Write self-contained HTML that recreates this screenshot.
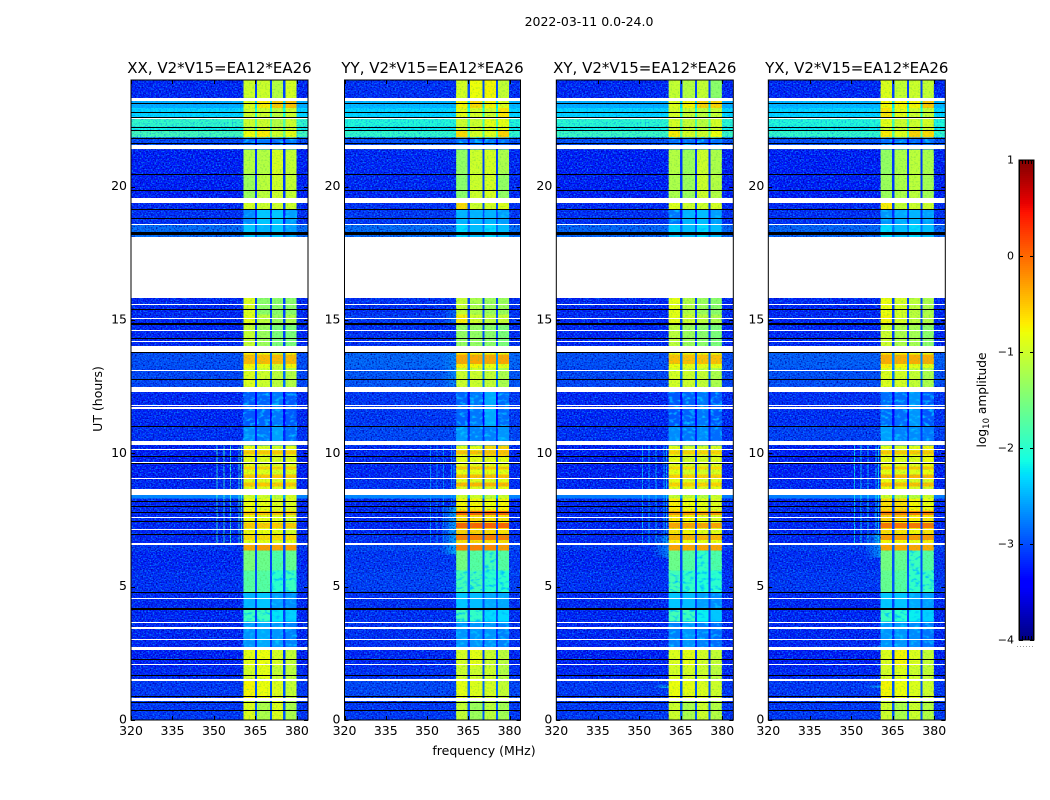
<!DOCTYPE html>
<html>
<head>
<meta charset="utf-8">
<title>2022-03-11 spectrogram</title>
<style>
html,body{margin:0;padding:0;background:#fff;}
svg{display:block;}
text{font-family:"DejaVu Sans","Liberation Sans",sans-serif;fill:#000;}
.c{shape-rendering:crispEdges;}
</style>
</head>
<body>
<svg id="fig" xmlns="http://www.w3.org/2000/svg" width="1050" height="800" viewBox="0 0 1050 800">
<defs>
<filter id="speckle" x="0" y="0" width="100%" height="100%" color-interpolation-filters="sRGB">
<feTurbulence type="fractalNoise" baseFrequency="0.62 0.72" numOctaves="1" seed="7" result="n"/>
<feColorMatrix in="n" type="matrix" values="0 0 0 0 0.02  0 0 0 0 0.5  0 0 0 0 1  3.2 0 0 0 -1.45" result="light"/>
<feColorMatrix in="n" type="matrix" values="0 0 0 0 0  0 0 0 0 0  0 0 0 0 0.6  0 2.6 0 0 -1.15" result="dark"/>
<feMerge><feMergeNode in="dark"/><feMergeNode in="light"/></feMerge>
</filter>
<filter id="speckle-bright" x="0" y="0" width="100%" height="100%" color-interpolation-filters="sRGB">
<feTurbulence type="fractalNoise" baseFrequency="0.62 0.72" numOctaves="1" seed="11"/>
<feColorMatrix type="matrix" values="0 0 0 0 0  0 0 0 0 0.4  0 0 0 0 1  1.6 0 0 0 -0.72"/>
</filter>
<filter id="speckle-soft" x="0" y="0" width="100%" height="100%" color-interpolation-filters="sRGB">
<feTurbulence type="fractalNoise" baseFrequency="0.55 0.65" numOctaves="1" seed="3"/>
<feColorMatrix type="matrix" values="0 0 0 0 0.3  0 0 0 0 0.8  0 0 0 0 0.3  1.4 0 0 0 -0.68"/>
</filter>
<filter id="blotch" x="0" y="0" width="100%" height="100%" color-interpolation-filters="sRGB">
<feTurbulence type="fractalNoise" baseFrequency="0.2 0.32" numOctaves="2" seed="5"/>
<feColorMatrix type="matrix" values="0 0 0 0 0  0 0 0 0 0.75  0 0 0 0 1  3.4 0 0 0 -1.7"/>
</filter>
</defs>
<text x="589" y="26" font-size="12.5" text-anchor="middle">2022-03-11 0.0-24.0</text>
<text transform="translate(102,399) rotate(-90)" font-size="12.5" text-anchor="middle">UT (hours)</text>
<text x="484" y="755" font-size="12.5" text-anchor="middle">frequency (MHz)</text>
<text transform="translate(986,400) rotate(-90)" font-size="12.2" text-anchor="middle">log<tspan font-size="8.5" dy="3">10</tspan><tspan dy="-3"> amplitude</tspan></text>
</svg>
<script>
// ---- data ----
const polarizations = ["XX", "YY", "XY", "YX"];
const baselineLabel = "V2*V15=EA12*EA26";
const freqTicks = [320, 335, 350, 365, 380];
const utTicks = [0, 5, 10, 15, 20];
const colorTicks = [1, 0, -1, -2, -3, -4];
// spectral windows in MHz
const subbands = [[360.6, 364.8], [365.6, 370.2], [370.9, 375.0], [375.8, 379.9]];
// time rows in UT hours [top, bottom]
const rowEdges = [
[24,23.3],[23.3,22.95],[22.95,22.6],[22.6,22.25],[22.25,22.1],[22.1,21.85],[21.85,21.4],
[21.4,20.5],[20.5,19.4],[19.4,19.15],[19.15,18.6],[18.6,18.1],
[15.83,15.2],[15.2,14.85],[14.85,14],[13.8,13.2],[13.2,12.3],[12.3,11],[11,10.3],
[10.3,9.9],[9.9,9],[9,8.44],[8.44,8.3],[8.3,7.9],[7.9,7.5],[7.5,7],[7,6.6],[6.6,6.35],
[6.35,5.6],[5.6,4.8],[4.8,4.2],[4.2,3.7],[3.7,2.7],[2.7,2],[2,1.55],[1.55,0.8],[0.8,0]
];
// log10 amplitude per row: [background, sub1, sub2, sub3, sub4]
const valuesXX = [
[-3.25,-1,-1,-1.15,-.95],[-2.5,-.9,-.7,-.5,-.45],[-2.3,-1,-1,-1.1,-1],[-1.95,-1,-1,-1.15,-1],[-2.15,-1.1,-1,-1.1,-1],[-1.85,-.8,-.7,-1,-.85],[-3.05,-2.9,-2.8,-2.9,-2.8],
[-3.3,-1.15,-1.15,-.95,-1.05],[-3.3,-1.3,-1.1,-1,-1.05],[-3.25,-.95,-1,-1,-1],[-3.2,-2.7,-2.4,-2.4,-2.6],[-2.8,-2.4,-2.5,-2.4,-2.6],
[-3.25,-.9,-1.4,-1.4,-1.4],[-3.25,-.85,-1.1,-1.3,-1.2],[-3.25,-1.05,-1.3,-1.5,-1.5],[-3,-.75,-.85,-1,-.75],[-3.05,-.9,-1,-1.1,-1.15],[-3.25,-2.95,-2.9,-2.8,-2.95],[-3.2,-2.7,-2.8,-2.6,-2.85],
[-3.3,-.8,-.9,-.95,-.85],[-3.3,-.85,-.9,-.95,-.9],[-3.25,-.85,-.9,-.95,-.85],[-2.7,-1,-1,-1.1,-.95],[-3.25,-.8,-.85,-.9,-.9],[-3.25,-.8,-.85,-.9,-.9],[-3.25,-.75,-.8,-.85,-.95],[-3.25,-.85,-.85,-.9,-.85],[-3.15,-.3,-.25,-.3,-.25],
[-3.25,-1.5,-1.6,-1.8,-1.65],[-3.2,-1.75,-1.75,-2,-1.9],[-3.25,-2.5,-2.4,-2.6,-2.7],[-3.25,-1.9,-1.9,-2.25,-2.35],[-3.25,-2.65,-2.55,-2.65,-2.75],[-3.3,-.85,-.8,-.95,-1.05],[-3.25,-.95,-.85,-1.05,-1.1],[-3.15,-.75,-.8,-.9,-1.05],[-3.15,-.9,-1.2,-.9,-1.2]
];
const valuesYY = [
[-3.2,-.95,-.8,-.75,-1.05],[-2.45,-.75,-.6,-.75,-.9],[-2.3,-.85,-.95,-1,-.65],[-2.05,-1,-1,-.85,-.85],[-2.2,-1,-.95,-.9,-.85],[-1.95,-.6,-.95,-.9,-.55],[-3,-2.85,-2.85,-2.85,-2.85],
[-3.25,-1.35,-1,-.95,-1.2],[-3.25,-1.4,-1,-.95,-1.35],[-3.2,-.6,-1,-.95,-.9],[-3.15,-2.5,-2.5,-2.5,-2.6],[-2.8,-2.3,-2.45,-2.3,-2.45],
[-3.2,-1.05,-1.2,-1.3,-1.3],[-3.15,-.7,-1,-1.1,-1.05],[-3.2,-1.35,-1.35,-1.4,-1.5],[-2.85,-.7,-.75,-.8,-.85],[-2.95,-1,-1,-1.05,-1.2],[-3.15,-2.9,-2.8,-2.55,-2.85],[-3.05,-2.65,-2.75,-2.75,-2.65],
[-3.25,-.85,-.85,-.6,-.55],[-3.25,-.85,-.85,-.85,-.85],[-3.2,-.9,-.9,-.9,-.85],[-2.7,-1,-1,-1.1,-1],[-3.25,-.75,-.75,-.8,-.75],[-3.25,-.6,-.6,-.65,-.65],[-3.25,-.55,-.55,-.6,-.65],[-3.2,-.6,-.6,-.6,-.6],[-3.05,-.12,-.12,-.15,-.25],
[-3.15,-1.55,-1.75,-1.85,-1.75],[-3.1,-1.85,-1.85,-2,-2],[-3.2,-2.4,-2.45,-2.55,-2.55],[-3.2,-1.85,-1.95,-2.3,-2.3],[-3.2,-2.65,-2.65,-2.65,-2.75],[-3.25,-.95,-.85,-1,-1.1],[-3.2,-1,-1,-1,-1.15],[-3.05,-.85,-.9,-.95,-1.05],[-3.15,-1.05,-1.3,-1.1,-1.25]
];
const valuesXY = [
[-3.25,-1.05,-1.15,-1.05,-1.4],[-2.5,-.9,-.75,-.55,-.55],[-2.3,-.95,-1.05,-1.1,-1.05],[-2,-.95,-1.05,-1.1,-.95],[-2.15,-1,-1,-1.1,-1],[-1.9,-.7,-.95,-1,-.8],[-3,-2.85,-2.85,-2.9,-2.85],
[-3.3,-1.15,-1.3,-1,-1.2],[-3.3,-1.2,-1.3,-1,-1.15],[-3.25,-.9,-1,-1,-.95],[-3.2,-2.8,-2.5,-2.45,-2.6],[-2.85,-2.35,-2.45,-2.3,-2.45],
[-3.25,-.85,-1.15,-1.3,-1.4],[-3.25,-.85,-1,-1.1,-1.2],[-3.25,-1.1,-1.3,-1.4,-1.5],[-3,-.8,-.85,-.85,-.85],[-3.05,-.95,-1,-1.05,-1.2],[-3.25,-2.95,-2.9,-2.8,-2.95],[-3.2,-2.7,-2.8,-2.7,-2.85],
[-3.3,-.85,-.95,-.95,-.9],[-3.3,-.85,-.95,-.95,-.9],[-3.25,-.85,-.9,-.95,-.85],[-2.75,-1.05,-1.05,-1.15,-1],[-3.25,-.7,-.8,-.85,-.9],[-3.25,-.65,-.75,-.85,-.9],[-3.25,-.65,-.75,-.85,-.85],[-3.25,-.7,-.8,-.85,-.8],[-3.15,-.3,-.3,-.3,-.3],
[-3.25,-1.6,-1.75,-1.95,-1.8],[-3.2,-1.85,-1.95,-2.05,-2],[-3.25,-2.4,-2.45,-2.6,-2.7],[-3.25,-1.85,-1.9,-2.2,-2.4],[-3.25,-2.75,-2.65,-2.75,-2.85],[-3.3,-.9,-.85,-.95,-1.05],[-3.25,-.95,-.95,-1,-1.1],[-3.15,-.8,-.85,-.9,-1],[-3.15,-1,-1.2,-1,-1.15]
];
const valuesYX = [
[-3.25,-.9,-1.05,-1,-1.05],[-2.45,-.75,-.75,-.75,-.5],[-2.3,-.65,-.85,-1,-1.05],[-2.05,-.85,-1,-1,-.95],[-2.2,-1,-1,-1,-1],[-1.95,-.7,-.9,-.55,-.6],[-3,-2.85,-2.85,-2.9,-2.85],
[-3.3,-1.35,-1.2,-1.1,-1.2],[-3.3,-1.3,-1.2,-1.1,-1.25],[-3.25,-.7,-1.05,-1,-1],[-3.2,-2.65,-2.55,-2.5,-2.6],[-2.85,-2.3,-2.45,-2.3,-2.45],
[-3.25,-.8,-.95,-1.1,-1.2],[-3.25,-.75,-.95,-1.1,-1.15],[-3.25,-1,-1.2,-1.25,-1.4],[-2.9,-.7,-.75,-.85,-.85],[-3,-.9,-.95,-1.05,-1.2],[-3.2,-2.85,-2.85,-2.65,-2.95],[-3.1,-2.6,-2.75,-2.7,-2.8],
[-3.3,-.85,-.9,-.85,-.75],[-3.3,-.85,-.9,-.9,-.8],[-3.25,-.8,-.85,-.95,-.95],[-2.75,-1,-1.1,-1.15,-1],[-3.25,-.6,-.6,-.75,-.8],[-3.25,-.55,-.5,-.7,-.65],[-3.25,-.6,-.65,-.75,-.65],[-3.25,-.75,-.75,-.85,-.7],[-3.1,-.3,-.3,-.3,-.35],
[-3.2,-1.55,-1.65,-1.9,-1.75],[-3.15,-1.65,-1.75,-1.95,-1.9],[-3.25,-2.4,-2.4,-2.55,-2.6],[-3.25,-1.9,-2,-2.2,-2.35],[-3.25,-2.65,-2.65,-2.7,-2.8],[-3.3,-.9,-.75,-.9,-1.05],[-3.25,-.95,-.9,-1,-1.05],[-3.15,-.75,-.8,-.9,-1],[-3.15,-1,-1.2,-1,-1.15]
];
// hotter integrations across all windows: [top, bottom] in UT hours, level per polarization
const hotSpans = [[13.7,13.35],[10.1,9.95],[9.5,9.4],[9.2,9.08],[8.9,8.75],[7.84,7.69],[7.39,7.2],[6.94,6.75]];
const hotLevelsXX = [-.42,-.5,-.55,-.5,-.5,-.45,-.5,-.6];
const hotLevelsYY = [-.32,-.45,-.5,-.45,-.4,.05,.05,-.1];
const hotLevelsXY = [-.45,-.55,-.6,-.55,-.55,-.25,-.3,-.4];
const hotLevelsYX = [-.35,-.5,-.5,-.4,-.45,-.1,-.05,-.25];
// flagged (blank) intervals in UT hours [top, bottom]
const flaggedBands = [
[23.34,23.21],[22.58,22.54],[21.56,21.41],[19.56,19.4],[18.61,18.56],[18.11,15.83],[15.6,15.56],[15.4,15.36],[15.08,15.04],[14.64,14.6],[14.2,14.16],[14.04,13.8],[13.11,13.07],[12.5,12.3],[11.81,11.77],[11.72,11.68],[10.45,10.3],[10.18,10.14],[9.67,9.63],[9.08,9.04],[8.65,8.44],[7.62,7.58],[7.45,7.41],[7.17,7.13],[6.62,6.58],[4.58,4.54],[3.68,3.64],[3.47,3.43],[3.05,3.01],[2.74,2.63],[2.11,2.07],[1.53,1.45],[0.83,0.71]
];
// dropped integrations, in UT hours
const darkLines = [23.13,22.81,22.6,22.25,22.11,21.84,21.63,20.46,19.86,19.15,18.81,18.3,18.26,18.22,15.43,14.87,14.84,14.31,13.79,12.78,11.04,9.89,9.63,8.21,8.03,7.79,7.45,6.96,4.79,4.19,4.16,2.3,2.27,1.7,0.89,0.68,0.36];
// narrow-band interference: frequencies (MHz), active interval and level per polarization
const rfiFreqs = [351, 353.4, 355.8, 358.8, 359.7];
const rfiSpan = [10.3, 6.6];
const rfiLevels = [-1.9, -2.6, -2.4, -2.2];
// broad shoulder next to the first window: [top, bottom, level] per polarization
const shoulderXX = [[2.7, 2.6, -2.7]];
const shoulderYY = [[8.0, 6.2, -2.3], [15.4, 14.9, -2.8], [13.8, 12.5, -2.6]];
const shoulderXY = [[6.9, 6.1, -2.6], [1.3, 1.2, -2.2]];
const shoulderYX = [[7.0, 6.1, -2.5], [1.3, 1.2, -2.3], [2.8, 2.6, -2.7]];

// ---- layout ----
const NS = "http://www.w3.org/2000/svg";
const fig = document.getElementById("fig");
const axesLeft = [131, 344.5, 556.3, 768.3];
const axesWidth = [177, 176, 177, 177];
const axesTop = 80, axesBottom = 720;
const freqMin = 320, freqMax = 384, utMin = 0, utMax = 24;
const cbLeft = 1019, cbWidth = 15, cbTop = 160, cbBottom = 640, cbMin = -4, cbMax = 1;
const allValues = [valuesXX, valuesYY, valuesXY, valuesYX];
const allShoulders = [shoulderXX, shoulderYY, shoulderXY, shoulderYX];
const allHot = [hotLevelsXX, hotLevelsYY, hotLevelsXY, hotLevelsYX];

function yScale(ut) { return axesBottom - (ut - utMin) / (utMax - utMin) * (axesBottom - axesTop); }
function xScaleFor(p) {
  return function (f) { return axesLeft[p] + (f - freqMin) / (freqMax - freqMin) * axesWidth[p]; };
}
function cbScale(v) { return cbBottom - (v - cbMin) / (cbMax - cbMin) * (cbBottom - cbTop); }
function lerp(t, pts) {
  for (let i = 1; i < pts.length; i++) {
    if (t <= pts[i][0]) {
      const a = pts[i - 1], b = pts[i];
      return a[1] + (b[1] - a[1]) * (t - a[0]) / (b[0] - a[0]);
    }
  }
  return pts[pts.length - 1][1];
}
function jet(v) {
  const t = Math.max(0, Math.min(1, (v - cbMin) / (cbMax - cbMin)));
  const r = lerp(t, [[0, 0], [.35, 0], [.66, 1], [.89, 1], [1, .5]]);
  const g = lerp(t, [[0, 0], [.125, 0], [.375, 1], [.64, 1], [.91, 0], [1, 0]]);
  const b = lerp(t, [[0, .5], [.11, 1], [.34, 1], [.65, 0], [1, 0]]);
  return "rgb(" + Math.round(r * 255) + "," + Math.round(g * 255) + "," + Math.round(b * 255) + ")";
}
function mk(tag, attrs, parent) {
  const el = document.createElementNS(NS, tag);
  for (const k in attrs) el.setAttribute(k, attrs[k]);
  (parent || fig).appendChild(el);
  return el;
}
function box(x0, y0, x1, y1, fill, parent) {
  return mk("rect", { x: x0, y: y0, width: x1 - x0, height: y1 - y0, fill: fill, "class": "c" }, parent);
}
function noise(x0, y0, x1, y1, filterId, parent) {
  return mk("rect", { x: x0, y: y0, width: x1 - x0, height: y1 - y0, fill: "#000", filter: "url(#" + filterId + ")" }, parent);
}

polarizations.forEach(function (pol, p) {
  const x = xScaleFor(p);
  const L = axesLeft[p], R = L + axesWidth[p];
  const g = mk("g", {});
  
  

  // heatmap cells
  const cells = mk("g", {}, g);
  
  
  allValues[p].forEach(function (row, r) {
    const top = yScale(rowEdges[r][0]), bot = yScale(rowEdges[r][1]);
    const bg = box(L, top, R, bot, jet(row[0]), cells);
    
    
    const gapColor = jet(Math.min(row[0] + 0.2, row[1] - 0.5));
    const gap = box(x(subbands[0][0]), top, x(subbands[3][1]), bot, gapColor, cells);
    
    
    subbands.forEach(function (sb, s) {
      const cell = box(x(sb[0]), top, x(sb[1]), bot, jet(row[s + 1]), cells);
      
      
    });
  });

  // hot integrations
  hotSpans.forEach(function (span, h) {
    subbands.forEach(function (sb) {
      const m = box(x(sb[0]), yScale(span[0]), x(sb[1]), yScale(span[1]), jet(allHot[p][h]), g);
      
      
    });
  });

  // shoulders fade out away from the first window
  allShoulders[p].forEach(function (s) {
    [0.2, 0.4, 0.6, 0.8].forEach(function (o, i) {
      const m = box(x(355.4 + i * 1.3), yScale(s[0]), x(356.7 + i * 1.3), yScale(s[1]), jet(s[2]), g);
      m.setAttribute('opacity', o);
      
      
    });
  });

  // interference lines
  rfiFreqs.forEach(function (f) {
    const m = box(x(f), yScale(rfiSpan[0]), x(f) + 1, yScale(rfiSpan[1]), jet(rfiLevels[p]), g);
    
    
  });

  // texture, per row so quiet and bright rows differ
  allValues[p].forEach(function (row, r) {
    const top = yScale(rowEdges[r][0]), bot = yScale(rowEdges[r][1]);
    const kind = row[0] > -2.8 ? "speckle-bright" : "speckle";
    const s1 = noise(L, top, x(subbands[0][0]), bot, kind, g);
    
    
    const s2 = noise(x(subbands[3][1]), top, R, bot, kind, g);
    
    
    subbands.forEach(function (sb, s) {
      const faint = row[s + 1] < -1.8;
      const s3 = noise(x(sb[0]), top, x(sb[1]), bot, faint ? "blotch" : "speckle-soft", g);
      
      
    });
  });

  // flagged rows and dropped lines
  flaggedBands.forEach(function (b) {
    const m = box(L, Math.round(yScale(b[0])), R, Math.max(Math.round(yScale(b[1])), Math.round(yScale(b[0])) + 1), "#fff", g);
    
    
  });
  darkLines.forEach(function (u) {
    const y = Math.round(yScale(u));
    const m = box(L, y, R, y + 1, "#000", g);
    
    
  });

  // frame
  const frame = mk("rect", { x: L, y: axesTop, width: axesWidth[p], height: axesBottom - axesTop, fill: "none", stroke: "#000", "stroke-width": 1 }, g);
  
  

  // ticks and labels
  freqTicks.forEach(function (f) {
    const tx = Math.round(x(f)) + .5;
    const t1 = mk("path", { d: "M" + tx + " " + axesBottom + "v-4M" + tx + " " + axesTop + "v4", stroke: "#000", "stroke-width": 1, fill: "none" }, g);
    
    
    const lab = mk("text", { x: x(f), y: 735, "font-size": 12.5, "text-anchor": "middle" }, g);
    lab.textContent = f;
    
    
  });
  utTicks.forEach(function (u) {
    const ty = Math.round(yScale(u)) + .5;
    const t1 = mk("path", { d: "M" + L + " " + ty + "h4M" + R + " " + ty + "h-4", stroke: "#000", "stroke-width": 1, fill: "none" }, g);
    
    
    const lab = mk("text", { x: L - 4, y: yScale(u) + 3.5, "font-size": 12.5, "text-anchor": "end" }, g);
    lab.textContent = u;
    
    
  });

  const title = mk("text", { x: (L + R) / 2, y: 73, "font-size": 15, "text-anchor": "middle" }, g);
  title.textContent = pol + ", " + baselineLabel;
  
  
});

// ---- colorbar ----
const cb = mk("g", {});


for (let y = cbTop; y < cbBottom; y += 2) {
  const v = cbMax - (y + 1 - cbTop) / (cbBottom - cbTop) * (cbMax - cbMin);
  box(cbLeft, y, cbLeft + cbWidth, y + 2, jet(v), cb);
}
const cbFrame = mk("rect", { x: cbLeft, y: cbTop, width: cbWidth, height: cbBottom - cbTop, fill: "none", stroke: "#000", "stroke-width": 1 }, cb);


const cbEdge = mk("path", { d: "M" + (cbLeft + .5) + " " + cbTop + "V" + cbBottom + "M" + (cbLeft + cbWidth - .5) + " " + cbTop + "V" + cbBottom, stroke: "#000", "stroke-width": 1, fill: "none" }, cb);


colorTicks.forEach(function (v) {
  const y = Math.round(cbScale(v)) + .5;
  const t = mk("path", { d: "M" + cbLeft + " " + y + "h4M" + (cbLeft + cbWidth) + " " + y + "h-4", stroke: "#000", "stroke-width": 1, fill: "none" }, cb);
  
  
  const lab = mk("text", { x: 1014, y: cbScale(v) + 3.5, "font-size": 11, "text-anchor": "end" }, cb);
  lab.textContent = String(v).replace("-", "\u2212");
  
  
});
const cbMinor = mk("path", { d: "M1022.5 160v4M1025.5 160v4M1028.5 160v4M1031.5 160v4M1022.5 640v-4M1025.5 640v-4M1028.5 640v-4M1031.5 640v-4", stroke: "#000", "stroke-width": 1, fill: "none" }, cb);


const cbDots = mk("line", { x1: 1017, x2: 1035, y1: 646.5, y2: 646.5, stroke: "#999", "stroke-width": 1, "stroke-dasharray": "1 2" }, cb);


</script>
</body>
</html>
